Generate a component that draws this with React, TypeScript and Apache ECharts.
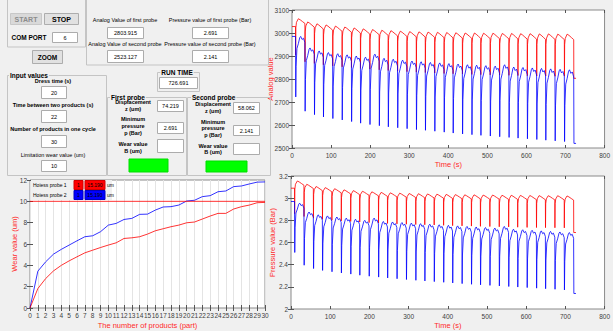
import React, { useEffect, useRef } from "react";
import * as echarts from "echarts";

// ---------- data ----------
// times (s) at which each product cycle starts (sharp pressure drop)
const dropTimes = [9, 33, 57, 80, 104, 128, 152, 175, 199, 223, 246, 270, 294, 318, 341, 365, 389, 412, 436, 460, 483, 507, 531, 555, 578, 602, 626, 649, 673, 697, 721];
const endTime = 727;

// analog values (top chart)
const redAnalogStart = 3028;
const redAnalogPeaks = [3062, 3048, 3040, 3035, 3030, 3026, 3022, 3018, 3015, 3012, 3010, 3008, 3006, 3005, 3004, 3003, 3002, 3001, 3000, 3000, 2999, 2999, 2998, 2998, 2997, 2997, 2996, 2996, 2995, 2995];
const redAnalogTroughs = [2905, 2875, 2868, 2862, 2857, 2853, 2850, 2846, 2843, 2840, 2837, 2834, 2832, 2830, 2828, 2826, 2824, 2823, 2822, 2820, 2819, 2818, 2817, 2816, 2815, 2814, 2813, 2813, 2812, 2812, 2803];
const blueAnalogStart = 2985;
const blueAnalogPeaks = [2985, 2935, 2922, 2915, 2910, 2905, 2900, 2895, 2908, 2890, 2886, 2882, 2878, 2875, 2872, 2870, 2867, 2865, 2862, 2860, 2858, 2856, 2862, 2852, 2850, 2848, 2846, 2844, 2842, 2840];
const blueAnalogTroughs = [2722, 2660, 2645, 2635, 2628, 2622, 2615, 2608, 2602, 2597, 2592, 2588, 2584, 2580, 2577, 2573, 2569, 2565, 2561, 2558, 2555, 2552, 2549, 2546, 2543, 2540, 2537, 2534, 2531, 2528, 2520];

// pressure values (bottom right chart)
const redPressStart = 3.09;
const redPressPeaks = [3.155, 3.125, 3.105, 3.095, 3.085, 3.075, 3.068, 3.062, 3.057, 3.052, 3.048, 3.045, 3.042, 3.04, 3.038, 3.036, 3.034, 3.032, 3.03, 3.03, 3.028, 3.028, 3.026, 3.026, 3.025, 3.024, 3.023, 3.022, 3.022, 3.02];
const redPressTroughs = [2.86, 2.835, 2.82, 2.81, 2.8, 2.795, 2.79, 2.785, 2.78, 2.776, 2.772, 2.768, 2.765, 2.762, 2.76, 2.758, 2.755, 2.752, 2.75, 2.748, 2.746, 2.744, 2.742, 2.74, 2.738, 2.736, 2.735, 2.734, 2.733, 2.732, 2.69];
const bluePressStart = 2.97;
const bluePressPeaks = [2.955, 2.875, 2.85, 2.84, 2.83, 2.82, 2.81, 2.8, 2.82, 2.79, 2.785, 2.78, 2.775, 2.77, 2.765, 2.76, 2.755, 2.75, 2.745, 2.74, 2.735, 2.73, 2.745, 2.72, 2.715, 2.71, 2.705, 2.7, 2.695, 2.69];
const bluePressTroughs = [2.51, 2.395, 2.365, 2.348, 2.336, 2.325, 2.315, 2.305, 2.296, 2.288, 2.28, 2.273, 2.266, 2.259, 2.253, 2.247, 2.241, 2.235, 2.229, 2.223, 2.218, 2.213, 2.208, 2.203, 2.198, 2.193, 2.188, 2.183, 2.178, 2.172, 2.14];

// wear (bottom left chart)
const products = Array.from({ length: 31 }, (_, i) => i);
const wearBlue = [0, 3.45, 4.33, 5.05, 5.5, 5.9, 6.3, 6.68, 6.77, 7.15, 7.77, 7.93, 8.3, 8.4, 8.78, 8.8, 9.18, 9.47, 9.5, 9.65, 10.03, 10.1, 10.44, 10.53, 10.9, 10.97, 11.38, 11.44, 11.63, 11.8, 11.82];
const wearRed = [0, 1.82, 2.76, 3.48, 4.0, 4.42, 4.8, 5.17, 5.42, 5.67, 5.9, 6.11, 6.52, 6.58, 6.68, 6.93, 7.24, 7.43, 7.62, 7.77, 7.99, 8.06, 8.34, 8.62, 8.87, 8.87, 9.28, 9.5, 9.65, 9.87, 9.9];
const wearLimit = 10;

// shape of one cycle: [phase in cycle, offset as a fraction of depth below peak]
const redShape = [[0.035, -0.25], [0.1, -0.1], [0.3, 0], [0.5, -0.03], [0.75, -0.08], [1.0, -0.13]];
const blueShape = [[0.06, -0.5], [0.15, -0.2], [0.3, -0.12], [0.45, -0.02], [0.55, 0], [0.7, -0.05], [0.85, -0.03], [1.0, -0.1]];

function buildWave(start: number, peaks: number[], troughs: number[], shape: number[][], troughDelay: number) {
  const pts: number[][] = [[0, start]];
  for (let k = 0; k < dropTimes.length; k++) {
    const s = dropTimes[k];
    if (k === 0) pts.push([s, start]);
    pts.push([s + troughDelay, troughs[k]]);
    if (k < peaks.length) {
      const P = dropTimes[k + 1] - s;
      const depth = peaks[k] - troughs[k];
      for (const [ph, off] of shape) pts.push([s + ph * P, peaks[k] + off * depth]);
    }
  }
  pts.push([endTime, troughs[troughs.length - 1]]);
  return pts;
}

const FONT = "Liberation Sans, Arial, sans-serif";
const BG = "#f0f0f0";

function txt(x: number, y: number, s: string, o: any = {}) {
  const align = o.align || "center";
  return {
    type: "text",
    x,
    y,
    z: 10,
    style: {
      text: s,
      fontSize: o.size || 6,
      fontFamily: FONT,
      fontWeight: o.bold ? "bold" : "normal",
      fill: o.color || "#000",
      align,
      textAlign: align,
      verticalAlign: "middle",
      textVerticalAlign: "middle",
      backgroundColor: o.bg,
      padding: o.bg ? [0, 1] : undefined,
    },
  };
}
function box(x: number, y: number, w: number, h: number, fill = "#fff", stroke = "#acacac") {
  return { type: "rect", z: 5, shape: { x, y, width: w, height: h }, style: { fill, stroke, lineWidth: 1 } };
}
function panel(x: number, y: number, w: number, h: number) {
  return { type: "rect", z: 4, shape: { x, y, width: w, height: h }, style: { fill: "none", stroke: "#c4c4c4", lineWidth: 1 } };
}
function editBox(x: number, y: number, w: number, h: number, s: string) {
  return [box(x, y, w, h), txt(x + w / 2, y + h / 2, s, { size: 5.5 })];
}

function buildGraphics() {
  const g: any[] = [];
  // top-left control panel
  g.push(panel(7.5, -2, 78, 49));
  g.push(box(10.5, 13.5, 31, 11, "#d9d9d9", "#c8c8c8"), txt(26, 19, "START", { bold: true, size: 7, color: "#8c8c8c" }));
  g.push(box(44.5, 13.5, 34, 11, "#e1e1e1", "#adadad"), txt(61.5, 19, "STOP", { bold: true, size: 7 }));
  g.push(txt(29, 37, "COM PORT", { bold: true, size: 6.5 }));
  g.push(...editBox(52.5, 32.5, 25, 10, "6"));
  g.push(box(32.5, 50.5, 30, 13, "#e1e1e1", "#adadad"), txt(47.5, 57, "ZOOM", { bold: true, size: 6.5 }));

  // probe values panel
  g.push(panel(86.5, -2, 182, 67));
  g.push(txt(125, 20, "Analog Value of first probe", { size: 5.5 }));
  g.push(...editBox(107.5, 27.5, 36, 11, "2803.915"));
  g.push(txt(210, 20, "Pressure value of first probe (Bar)", { size: 5.5 }));
  g.push(...editBox(192.5, 27.5, 36, 11, "2.691"));
  g.push(txt(125, 44, "Analog Value of second probe", { size: 5.5 }));
  g.push(...editBox(107.5, 50.5, 36, 12, "2523.127"));
  g.push(txt(210, 44, "Pressure value of second probe (Bar)", { size: 5.5 }));
  g.push(...editBox(192.5, 50.5, 36, 12, "2.141"));

  // input values panel
  g.push(panel(7.5, 75.5, 99, 100));
  g.push(txt(9, 75, "Input values", { bold: true, size: 6.5, align: "left", bg: BG }));
  g.push(txt(53, 81, "Dress time (s)", { bold: true, size: 5.5 }));
  g.push(...editBox(41.5, 86.5, 25, 12, "20"));
  g.push(txt(53, 105, "Time between two products (s)", { bold: true, size: 5.5 }));
  g.push(...editBox(41.5, 110.5, 25, 12, "22"));
  g.push(txt(53, 129, "Number of products in one cycle", { bold: true, size: 5.5 }));
  g.push(...editBox(41.5, 135.5, 25, 12, "30"));
  g.push(txt(53, 155, "Limitation wear value (um)", { size: 5.5 }));
  g.push(...editBox(41.5, 160.5, 25, 11, "10"));

  // run time
  g.push(panel(157.5, 72.5, 42, 19));
  g.push(txt(177, 72, "RUN TIME", { bold: true, size: 6.5, bg: BG }));
  g.push(...editBox(159.5, 77.5, 38, 11, "726.691"));

  // first probe
  g.push(panel(107.5, 97.5, 79, 78));
  g.push(txt(110, 97, "First probe", { bold: true, size: 6.5, align: "left", bg: BG }));
  g.push(txt(133, 102, "Displacement", { bold: true, size: 5.5 }), txt(133, 109, "z (um)", { bold: true, size: 5.5 }));
  g.push(...editBox(157.5, 100.5, 26, 11, "74.219"));
  g.push(txt(133, 119, "Minimum", { bold: true, size: 5.5 }), txt(133, 126, "pressure", { bold: true, size: 5.5 }), txt(133, 133, "p (Bar)", { bold: true, size: 5.5 }));
  g.push(...editBox(157.5, 122.5, 26, 11, "2.691"));
  g.push(txt(133, 144, "Wear value", { bold: true, size: 5.5 }), txt(133, 151, "B (um)", { bold: true, size: 5.5 }));
  g.push(...editBox(157.5, 139.5, 26, 13, ""));
  g.push(box(129, 159, 39, 13, "#00ff00", "#00dd00"));

  // second probe
  g.push(panel(187.5, 97.5, 83, 78));
  g.push(txt(191, 97, "Second probe", { bold: true, size: 6.5, align: "left", bg: BG }));
  g.push(txt(213, 104, "Displacement", { bold: true, size: 5.5 }), txt(213, 111, "z (um)", { bold: true, size: 5.5 }));
  g.push(...editBox(233.5, 102.5, 26, 11, "58.062"));
  g.push(txt(213, 122, "Minimum", { bold: true, size: 5.5 }), txt(213, 128, "pressure", { bold: true, size: 5.5 }), txt(213, 135, "p (Bar)", { bold: true, size: 5.5 }));
  g.push(...editBox(233.5, 125.5, 26, 10, "2.141"));
  g.push(txt(213, 146, "Wear value", { bold: true, size: 5.5 }), txt(213, 152, "B (um)", { bold: true, size: 5.5 }));
  g.push(...editBox(233.5, 143.5, 26, 11, ""));
  g.push(box(206, 161, 41, 11, "#00ff00", "#00dd00"));

  // legend inside the wear chart
  g.push({ type: "rect", z: 20, shape: { x: 31, y: 180, width: 81, height: 20 }, style: { fill: "#f0f0f0", stroke: "none" } });
  g.push({ ...txt(33, 185, "Hoiess probe 1", { size: 5, align: "left" }), z: 21 });
  g.push({ ...box(74, 180.5, 9, 9, "#ff0000", "#d00000"), z: 21 }, { ...txt(78.5, 185, "1", { size: 5 }), z: 22 });
  g.push({ ...box(85, 180.5, 20, 9, "#ff0000", "#d00000"), z: 21 }, { ...txt(95, 185, "15.190", { size: 5 }), z: 22 });
  g.push({ ...txt(107, 185, "um", { size: 5, align: "left" }), z: 21 });
  g.push({ ...txt(33, 195, "Hoiess probe 2", { size: 5, align: "left" }), z: 21 });
  g.push({ ...box(74, 190.5, 9, 9, "#0000ff", "#0000c0"), z: 21 }, { ...txt(78.5, 195, "1", { size: 5 }), z: 22 });
  g.push({ ...box(85, 190.5, 20, 9, "#0000ff", "#0000c0"), z: 21 }, { ...txt(95, 195, "15.190", { size: 5 }), z: 22 });
  g.push({ ...txt(107, 195, "um", { size: 5, align: "left" }), z: 21 });
  return g;
}

const tickLabel = { fontSize: 6.5, color: "#404040", fontFamily: FONT };
const nameStyle = { fontSize: 7.5, color: "#ff2a2a", fontFamily: FONT };
const plain = (v: number) => String(Math.round(v * 1000) / 1000);

function mainX(gridIndex: number, min: number, max: number, interval: number, name: string, nameGap: number, split = false) {
  return {
    type: "value", gridIndex, min, max, interval, position: "bottom",
    name, nameLocation: "middle", nameGap, nameTextStyle: nameStyle, nameMoveOverlap: false,
    axisLine: { show: false },
    axisTick: { show: true, inside: true, length: 3, lineStyle: { color: "#555" } },
    axisLabel: { ...tickLabel, margin: 4, showMinLabel: true, showMaxLabel: true, formatter: plain },
    splitLine: { show: split, lineStyle: { color: "#e4e4e4", width: 1 } },
  };
}
function mirrorX(gridIndex: number, min: number, max: number, interval: number) {
  return {
    type: "value", gridIndex, min, max, interval, position: "top",
    axisLine: { show: false }, axisLabel: { show: false }, splitLine: { show: false },
    axisTick: { show: true, inside: true, length: 3, lineStyle: { color: "#555" } },
  };
}
function mainY(gridIndex: number, min: number, max: number, interval: number, name: string, nameGap: number, fmt?: (v: number) => string) {
  return {
    type: "value", gridIndex, min, max, interval, position: "left",
    name, nameLocation: "middle", nameGap, nameTextStyle: nameStyle, nameMoveOverlap: false,
    axisLine: { show: false },
    axisTick: { show: true, inside: true, length: 3, lineStyle: { color: "#555" } },
    axisLabel: { ...tickLabel, margin: 3, formatter: fmt || plain },
    splitLine: { show: false },
  };
}
function mirrorY(gridIndex: number, min: number, max: number, interval: number) {
  return {
    type: "value", gridIndex, min, max, interval, position: "right",
    axisLine: { show: false }, axisLabel: { show: false }, splitLine: { show: false },
    axisTick: { show: true, inside: true, length: 3, lineStyle: { color: "#555" } },
  };
}

function line(data: any[], color: string, xi: number, yi: number, width = 1) {
  return {
    type: "line", data, xAxisIndex: xi, yAxisIndex: yi, showSymbol: false, symbol: "none",
    lineStyle: { color, width, opacity: 0.8 }, itemStyle: { color }, silent: true, z: 3,
  };
}

export default function App() {
  const ref = useRef<HTMLDivElement>(null);
  useEffect(() => {
    const chart = echarts.init(ref.current!, null, { renderer: "svg" });
    const gridBox = { show: true, backgroundColor: "#ffffff", borderColor: "#8a8a8a", borderWidth: 1, containLabel: false };
    const fmtP = (v: number) => String(Math.round(v * 10) / 10);
    chart.setOption({
      animation: false,
      backgroundColor: BG,
      textStyle: { fontFamily: FONT },
      grid: [
        { ...gridBox, left: 292, top: 10, width: 316.5, height: 138 },
        { ...gridBox, left: 291, top: 176, width: 317.5, height: 133 },
        { ...gridBox, left: 30, top: 180, width: 235, height: 128 },
      ],
      xAxis: [
        mainX(0, 0, 800, 100, "Time (s)", 12),
        mirrorX(0, 0, 800, 100),
        mainX(1, 0, 800, 100, "Time (s)", 12),
        mirrorX(1, 0, 800, 100),
        mainX(2, 0, 30, 1, "The number of products (part)", 13, true),
        mirrorX(2, 0, 30, 1),
      ],
      yAxis: [
        mainY(0, 2500, 3100, 100, "Analog value", 18),
        mirrorY(0, 2500, 3100, 100),
        mainY(1, 2, 3.2, 0.2, "Pressure value (Bar)", 15),
        mirrorY(1, 2, 3.2, 0.2),
        mainY(2, 0, 12, 2, "Wear value (um)", 12),
        mirrorY(2, 0, 12, 2),
      ].map((a, i) => (i === 2 ? { ...a, axisLabel: { ...(a as any).axisLabel, formatter: fmtP } } : a)),
      series: [
        line(buildWave(redAnalogStart, redAnalogPeaks, redAnalogTroughs, redShape, 0.3), "#ff0000", 0, 0),
        line(buildWave(blueAnalogStart, blueAnalogPeaks, blueAnalogTroughs, blueShape, 0.6), "#0000ff", 0, 0),
        line(buildWave(redPressStart, redPressPeaks, redPressTroughs, redShape, 0.3), "#ff0000", 2, 2),
        line(buildWave(bluePressStart, bluePressPeaks, bluePressTroughs, blueShape, 0.6), "#0000ff", 2, 2),
        line(products.map((p, i) => [p, wearBlue[i]]), "#0000ff", 4, 4),
        line(products.map((p, i) => [p, wearRed[i]]), "#ff0000", 4, 4),
        line([[products[0], wearLimit], [products[products.length - 1], wearLimit]], "#ff0000", 4, 4),
      ],
      graphic: buildGraphics(),
    });
    return () => chart.dispose();
  }, []);
  return (
    <div
      ref={ref}
      style={{ position: "absolute", left: 0, top: 0, width: 613, height: 331, background: BG }}
    />
  );
}
